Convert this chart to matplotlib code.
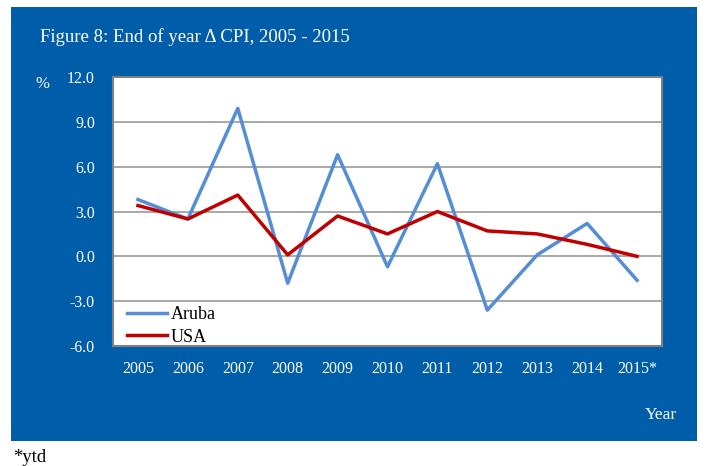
import matplotlib.pyplot as plt
from matplotlib.patches import Rectangle

years = ['2005', '2006', '2007', '2008', '2009', '2010',
         '2011', '2012', '2013', '2014', '2015*']
aruba = [3.8, 2.5, 9.9, -1.8, 6.8, -0.7, 6.2, -3.6, 0.1, 2.2, -1.6]
usa = [3.4, 2.5, 4.1, 0.1, 2.7, 1.5, 3.0, 1.7, 1.5, 0.8, 0.0]
yticks = [-6.0, -3.0, 0.0, 3.0, 6.0, 9.0, 12.0]

plt.rcParams['font.family'] = ['Liberation Serif', 'DejaVu Serif']

fig = plt.figure(figsize=(7.07, 4.66), dpi=100)
fig.patch.set_facecolor('white')

# blue panel behind the chart
fig.patches.append(Rectangle(
    (11/707, 1 - 441/466), 686/707, 434/466,
    transform=fig.transFigure, facecolor='#005DA9',
    edgecolor='none', zorder=-10
))

ax = fig.add_axes([113/707, 1 - 346/466, 549/707, 269/466])
ax.set_facecolor('white')

x = range(len(years))
ax.plot(x, aruba, color='#558ED5', linewidth=2.5, label='Aruba')
ax.plot(x, usa, color='#C00000', linewidth=2.5, label='USA')

ax.set_xlim(-0.5, len(years) - 0.5)
ax.set_ylim(-6, 12)
ax.set_yticks(yticks)
ax.set_yticklabels([f'{v:.1f}' for v in yticks])
ax.set_xticks(list(x))
ax.set_xticklabels(years)

ax.grid(axis='y', color='#999999', linewidth=1.2)
ax.set_axisbelow(True)

for s in ax.spines.values():
    s.set_color('#808080')
    s.set_linewidth(1.5)

ax.tick_params(axis='both', length=0, colors='white', labelsize=11.5)
ax.tick_params(axis='y', pad=13)
ax.tick_params(axis='x', pad=11)

ax.legend(loc='lower left', bbox_to_anchor=(0.022, -0.005),
          frameon=False, fontsize=13, handlelength=2.2,
          borderaxespad=0, borderpad=0.1, labelspacing=0.28,
          handletextpad=0.25)

fig.text(40/707, 1 - 37/466, 'Figure 8: End of year \u0394 CPI, 2005 - 2015',
         color='white', fontsize=13.5, va='center', ha='left')
fig.text(42/707, 1 - 84/466, '%', color='white', fontsize=12,
         va='center', ha='center')
fig.text(677/707, 1 - 415/466, 'Year', color='white', fontsize=12.5,
         va='center', ha='right')
fig.text(13/707, 1 - 458/466, '*ytd', color='black', fontsize=13.5,
         va='center', ha='left')

fig.savefig('out.png', dpi=100)
